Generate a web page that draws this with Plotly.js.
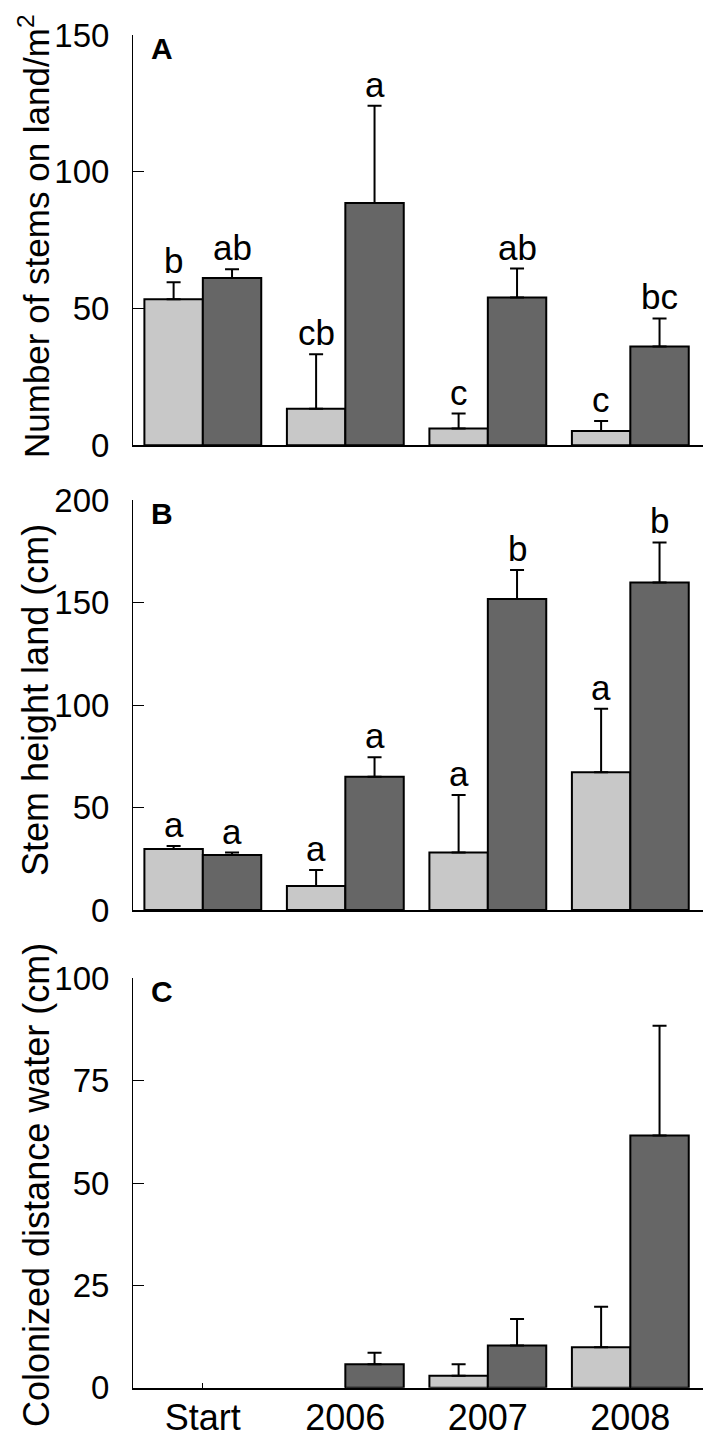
<!DOCTYPE html>
<html><head><meta charset="utf-8">
<script src="https://cdn.plot.ly/plotly-3.0.1.min.js"></script>
<style>html,body{margin:0;padding:0;background:#fff}#chart{width:709px;height:1439px}</style>
</head><body><div id="chart"></div>
<script>
// ---------- data ----------
const categories = ['Start', '2006', '2007', '2008'];

// Panel A: number of stems on land / m2
const stemsLight = [53.4, 13.4, 6.1, 5.2];
const stemsLightErr = [6.2, 19.9, 5.5, 3.7];
const stemsDark = [61.2, 88.6, 54.0, 36.1];
const stemsDarkErr = [3.2, 35.5, 10.6, 10.3];
const stemsLightLetters = ['b', 'cb', 'c', 'c'];
const stemsDarkLetters = ['ab', 'a', 'ab', 'bc'];

// Panel B: stem height land (cm)
const heightLight = [29.8, 11.7, 28.0, 67.2];
const heightLightErr = [1.4, 7.8, 28.1, 31.0];
const heightDark = [26.8, 65.0, 151.7, 159.7];
const heightDarkErr = [1.2, 9.5, 14.2, 19.6];
const heightLightLetters = ['a', 'a', 'a', 'a'];
const heightDarkLetters = ['a', 'a', 'b', 'b'];

// Panel C: colonized distance water (cm)
const distLight = [0, 0, 2.9, 9.9];
const distLightErr = [0, 0, 2.8, 9.9];
const distDark = [0, 5.7, 10.3, 61.6];
const distDarkErr = [0, 2.85, 6.5, 26.8];
const distLightLetters = ['', '', '', ''];
const distDarkLetters = ['', '', '', ''];

const panelLabels = ['A', 'B', 'C'];
const yTitles = ['Number of stems on land/m<sup>2</sup>', 'Stem height land (cm)', 'Colonized distance water (cm)'];
const yRanges = [[0, 150], [0, 200], [0, 100]];
const yDticks = [50, 50, 25];

// ---------- style ----------
const FONT = 'Liberation Sans, Arial, Helvetica, sans-serif';
const LIGHT = '#c8c8c8';
const DARK = '#666666';
const BARGAP = 0.18;
const W = 709, H = 1439;
const xDomain = [133 / W, 703 / W];
const yDomains = [
  [1 - 445.3 / H, 1 - 35 / H],
  [1 - 910 / H, 1 - 500 / H],
  [1 - 1387.7 / H, 1 - 978.3 / H]
];
const titlePx = [[34, 236], [35, 700], [36, 1185]];
const titleSizes = [35, 36, 36];

const panels = [
  {light: stemsLight, lightErr: stemsLightErr, dark: stemsDark, darkErr: stemsDarkErr, lL: stemsLightLetters, dL: stemsDarkLetters},
  {light: heightLight, lightErr: heightLightErr, dark: heightDark, darkErr: heightDarkErr, lL: heightLightLetters, dL: heightDarkLetters},
  {light: distLight, lightErr: distLightErr, dark: distDark, darkErr: distDarkErr, lL: distLightLetters, dL: distDarkLetters}
];

const traces = [];
const annotations = [];
const layout = {
  width: W, height: H, autosize: false,
  margin: {l: 0, r: 0, t: 0, b: 0, pad: 0},
  paper_bgcolor: '#fff', plot_bgcolor: 'rgba(0,0,0,0)',
  barmode: 'group', bargap: BARGAP, bargroupgap: 0,
  showlegend: false,
  font: {family: FONT, color: '#000'}
};

const half = (1 - BARGAP) / 4;
// zero-height bars are not drawn at all (no outline, no error cap)
const shown = arr => arr.map(v => (v > 0 ? v : null));

panels.forEach((p, i) => {
  const n = i + 1;
  const xa = 'x' + n, ya = 'y' + n;
  const zeros = p.light.map(() => 0);
  const errStyle = {type: 'data', symmetric: false, color: '#000', thickness: 2, width: 7, arrayminus: zeros};
  traces.push({
    type: 'bar', x: categories, y: shown(p.light), xaxis: xa, yaxis: ya,
    marker: {color: LIGHT, line: {color: '#000', width: 2}},
    error_y: Object.assign({array: p.lightErr, visible: true}, errStyle),
    hoverinfo: 'skip'
  });
  traces.push({
    type: 'bar', x: categories, y: shown(p.dark), xaxis: xa, yaxis: ya,
    marker: {color: DARK, line: {color: '#000', width: 2}},
    error_y: Object.assign({array: p.darkErr, visible: true}, errStyle),
    hoverinfo: 'skip'
  });
  categories.forEach((c, k) => {
    if (p.lL[k]) annotations.push({
      xref: xa, yref: ya, x: k - half, y: p.light[k] + p.lightErr[k],
      text: p.lL[k], showarrow: false, xanchor: 'center', yanchor: 'bottom',
      font: {size: 35, family: FONT, color: '#000'}, yshift: 0
    });
    if (p.dL[k]) annotations.push({
      xref: xa, yref: ya, x: k + half, y: p.dark[k] + p.darkErr[k],
      text: p.dL[k], showarrow: false, xanchor: 'center', yanchor: 'bottom',
      font: {size: 35, family: FONT, color: '#000'}, yshift: 0
    });
  });
  annotations.push({
    xref: xa + ' domain', yref: ya + ' domain', x: 0.051, y: 1,
    text: '<b>' + panelLabels[i] + '</b>', showarrow: false,
    xanchor: 'center', yanchor: 'top', yshift: 5,
    font: {size: 30, family: FONT, color: '#000'}
  });
  // y-axis title
  annotations.push({
    xref: 'paper', yref: 'paper', x: titlePx[i][0] / W, y: 1 - titlePx[i][1] / H,
    text: yTitles[i], textangle: -90, showarrow: false,
    xanchor: 'center', yanchor: 'middle',
    font: {size: titleSizes[i], family: FONT, color: '#000'}
  });

  layout['xaxis' + (n === 1 ? '' : n)] = {
    domain: xDomain, anchor: ya, type: 'category', range: [-0.49, 3.51],
    showline: true, linecolor: '#000', linewidth: 2,
    ticks: 'inside', ticklen: 5, tickwidth: 1, tickcolor: '#000',
    showticklabels: n === 3, tickfont: {size: 36, family: FONT, color: '#000'},
    ticklabelstandoff: -3,
    showgrid: false, zeroline: false, fixedrange: true, automargin: false
  };
  layout['yaxis' + (n === 1 ? '' : n)] = {
    domain: yDomains[i], anchor: xa, range: yRanges[i], tick0: 0, dtick: yDticks[i],
    showline: true, linecolor: '#000', linewidth: 1,
    ticks: 'inside', ticklen: 11, tickwidth: 1, tickcolor: '#000',
    tickfont: {size: 33, family: FONT, color: '#000'}, ticklabelstandoff: 16,
    showgrid: false, zeroline: false, fixedrange: true, automargin: false
  };
});
layout.annotations = annotations;

Plotly.newPlot('chart', traces, layout, {displayModeBar: false, staticPlot: true});
</script>
</body></html>
